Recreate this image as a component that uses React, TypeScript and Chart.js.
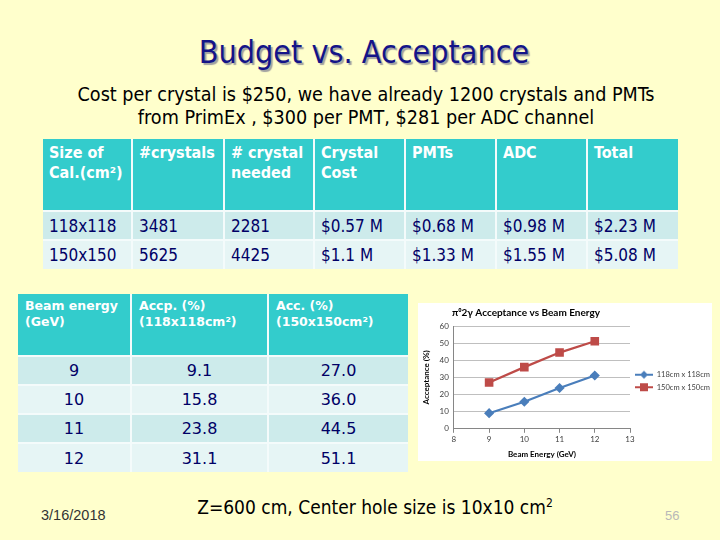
import React, { useEffect, useRef } from "react";
import { Chart, registerables } from "chart.js";

Chart.register(...registerables);

// ---------- data ----------
const beamEnergy = [9, 10, 11, 12];
const acc118 = [9.1, 15.8, 23.8, 31.1];
const acc150 = [27.0, 36.0, 44.5, 51.1];
const seriesLabels = ["118cm x 118cm", "150cm x 150cm"];
const chartTitle = "\u03c0\u20702\u03b3 Acceptance vs Beam Energy";
const xAxisTitle = "Beam Energy (GeV)";
const yAxisTitle = "Acceptance (%)";

const costHeaders = ["Size of\nCal.(cm\u00b2)", "#crystals", "# crystal\nneeded", "Crystal\nCost", "PMTs", "ADC", "Total"];
const calSizes = ["118x118", "150x150"];
const crystalsTotal = ["3481", "5625"];
const crystalsNeeded = ["2281", "4425"];
const crystalCost = ["$0.57 M", "$1.1 M"];
const pmtCost = ["$0.68 M", "$1.33 M"];
const adcCost = ["$0.98 M", "$1.55 M"];
const totalCost = ["$2.23 M", "$5.08 M"];

const accHeaders = ["Beam energy\n(GeV)", "Accp. (%)\n(118x118cm\u00b2)", "Acc. (%)\n(150x150cm\u00b2)"];

// ---------- styles ----------
const BG = "#FFFFCC";
const TEAL = "#33CCCC";
const ROW_A = "#CDEBEB";
const ROW_B = "#E6F5F5";
const NAVY = "#000066";
const BLUE = "#4A7EBB";
const RED = "#BE4B48";
const TAHOMA = '"DejaVu Sans Condensed", "DejaVu Sans", sans-serif';
const VERDANA = '"DejaVu Sans", Verdana, sans-serif';
const CHART_FONT = "Lato, 'Open Sans', sans-serif";

function legendIcon(color: string, shape: "diamond" | "square") {
  const c = document.createElement("canvas");
  c.width = 18;
  c.height = 10;
  const ctx = c.getContext("2d")!;
  ctx.strokeStyle = color;
  ctx.lineWidth = 2;
  ctx.beginPath();
  ctx.moveTo(0, 5);
  ctx.lineTo(18, 5);
  ctx.stroke();
  ctx.fillStyle = color;
  if (shape === "diamond") {
    ctx.beginPath();
    ctx.moveTo(9, 1);
    ctx.lineTo(13, 5);
    ctx.lineTo(9, 9);
    ctx.lineTo(5, 5);
    ctx.closePath();
    ctx.fill();
  } else {
    ctx.fillRect(5, 1, 8, 8);
  }
  return c;
}

function AcceptanceChart() {
  const ref = useRef<HTMLCanvasElement | null>(null);
  useEffect(() => {
    if (!ref.current) return;
    const icons = [legendIcon(BLUE, "diamond"), legendIcon(RED, "square")];
    const titleShift = {
      id: "titleShift",
      afterLayout(chart: any) {
        const tb = chart.titleBlock;
        if (tb) {
          const w = tb.right - tb.left;
          tb.left = chart.chartArea.left - 2;
          tb.right = tb.left + w;
        }
      },
    };
    const chart = new Chart(ref.current, {
      type: "line",
      data: {
        datasets: [
          {
            label: seriesLabels[0],
            data: beamEnergy.map((x, i) => ({ x, y: acc118[i] })),
            borderColor: BLUE,
            backgroundColor: BLUE,
            borderWidth: 2.25,
            pointStyle: "rectRot",
            pointRadius: 3.5,
            pointHoverRadius: 3.5,
          },
          {
            label: seriesLabels[1],
            data: beamEnergy.map((x, i) => ({ x, y: acc150[i] })),
            borderColor: RED,
            backgroundColor: RED,
            borderWidth: 2.25,
            pointStyle: "rect",
            pointRadius: 4.5,
            pointHoverRadius: 4.5,
          },
        ],
      },
      options: {
        responsive: false,
        animation: false,
        layout: { padding: { left: 4, right: 2, top: 0, bottom: 2 } },
        plugins: {
          title: {
            display: true,
            text: chartTitle,
            align: "start",
            color: "#000000",
            font: { family: CHART_FONT, size: 10, weight: "bold" },
            padding: { top: 4, bottom: 7 },
          },
          legend: {
            position: "right",
            maxWidth: 80,
            labels: {
              usePointStyle: true,
              pointStyleWidth: 18,
              boxHeight: 10,
              padding: 5,
              color: "#404040",
              font: { family: CHART_FONT, size: 7.5 },
              generateLabels: () =>
                seriesLabels.map((t, i) => ({
                  text: t,
                  pointStyle: icons[i] as any,
                  fillStyle: i === 0 ? BLUE : RED,
                  strokeStyle: "transparent",
                  lineWidth: 0,
                  hidden: false,
                  datasetIndex: i,
                  fontColor: "#404040",
                })),
            },
          },
          tooltip: { enabled: false },
        },
        scales: {
          x: {
            type: "linear",
            min: 8,
            max: 13,
            ticks: { stepSize: 1, color: "#404040", font: { family: CHART_FONT, size: 8 }, padding: 2 },
            grid: { drawOnChartArea: false, drawTicks: true, tickLength: 4, color: "#868686" },
            border: { color: "#868686" },
            title: {
              display: true,
              text: xAxisTitle,
              color: "#000000",
              font: { family: CHART_FONT, size: 8, weight: "bold" },
              padding: { top: 3, bottom: 0 },
            },
          },
          y: {
            min: 0,
            max: 60,
            ticks: { stepSize: 10, color: "#404040", font: { family: CHART_FONT, size: 8 }, padding: 5 },
            grid: { color: "#BFBFBF", drawTicks: false },
            border: { color: "#868686" },
            title: {
              display: true,
              text: yAxisTitle,
              color: "#000000",
              font: { family: CHART_FONT, size: 8, weight: "bold" },
              padding: { top: 0, bottom: 3 },
            },
          },
        },
      },
      plugins: [titleShift],
    });
    return () => chart.destroy();
  }, []);
  return (
    <canvas
      ref={ref}
      width={294}
      height={158}
      style={{ position: "absolute", left: 418, top: 303, background: "#FFFFFF" }}
    />
  );
}

const cellBorder = "2px solid #F4FBFB";

export default function App() {
  const costRows = calSizes.map((s, i) => [s, crystalsTotal[i], crystalsNeeded[i], crystalCost[i], pmtCost[i], adcCost[i], totalCost[i]]);
  const accRows = beamEnergy.map((e, i) => [String(e), acc118[i].toFixed(1), acc150[i].toFixed(1)]);
  return (
    <div style={{ position: "fixed", left: 0, top: 0, width: 720, height: 540, background: BG, overflow: "hidden" }}>
      <div
        style={{
          position: "absolute",
          left: 0,
          width: 728,
          top: 33,
          textAlign: "center",
          fontFamily: '"DejaVu Sans Condensed", "DejaVu Sans", sans-serif',
          fontSize: 32,
          color: "#141488",
          textShadow: "2px 2px 1px #A0A0A0",
        }}
      >
        Budget vs. Acceptance
      </div>
      <div
        style={{
          position: "absolute",
          left: 0,
          width: 732,
          top: 83,
          textAlign: "center",
          fontFamily: TAHOMA,
          fontSize: 19.6,
          lineHeight: "23px",
          color: "#000000",
        }}
      >
        Cost per crystal is $250, we have already 1200 crystals and PMTs
        <br />
        from PrimEx , $300 per PMT, $281 per ADC channel
      </div>

      <table
        style={{
          position: "absolute",
          left: 43,
          top: 139,
          width: 635,
          borderCollapse: "collapse",
          tableLayout: "fixed",
          fontFamily: TAHOMA,
        }}
      >
        <colgroup>
          {[89, 92, 90, 91, 91, 91, 91].map((w, i) => (
            <col key={i} style={{ width: w }} />
          ))}
        </colgroup>
        <tbody>
          <tr style={{ height: 72 }}>
            {costHeaders.map((h, i) => (
              <td
                key={i}
                style={{
                  background: TEAL,
                  color: "#FFFFFF",
                  fontWeight: "bold",
                  fontSize: 16,
                  lineHeight: "20px",
                  verticalAlign: "top",
                  padding: "4px 0 0 6px",
                  whiteSpace: "pre-line",
                  borderRight: i < 6 ? cellBorder : "none",
                  borderBottom: cellBorder,
                }}
              >
                {h}
              </td>
            ))}
          </tr>
          {costRows.map((r, ri) => (
            <tr key={ri} style={{ height: 29 }}>
              {r.map((v, ci) => (
                <td
                  key={ci}
                  style={{
                    background: ri === 0 ? ROW_A : ROW_B,
                    color: NAVY,
                    fontSize: 17,
                    padding: "0 0 0 6px",
                    whiteSpace: "nowrap",
                    borderRight: ci < 6 ? cellBorder : "none",
                    borderBottom: ri === 0 ? cellBorder : "none",
                  }}
                >
                  {v}
                </td>
              ))}
            </tr>
          ))}
        </tbody>
      </table>

      <table
        style={{
          position: "absolute",
          left: 18,
          top: 294,
          width: 390,
          borderCollapse: "collapse",
          tableLayout: "fixed",
          fontFamily: VERDANA,
        }}
      >
        <colgroup>
          {[113, 137, 140].map((w, i) => (
            <col key={i} style={{ width: w }} />
          ))}
        </colgroup>
        <tbody>
          <tr style={{ height: 62 }}>
            {accHeaders.map((h, i) => (
              <td
                key={i}
                style={{
                  background: TEAL,
                  color: "#FFFFFF",
                  fontWeight: "bold",
                  fontSize: 12.5,
                  lineHeight: "16px",
                  verticalAlign: "top",
                  padding: "4px 0 0 7px",
                  whiteSpace: "pre-line",
                  borderRight: i < 2 ? cellBorder : "none",
                  borderBottom: cellBorder,
                }}
              >
                {h}
              </td>
            ))}
          </tr>
          {accRows.map((r, ri) => (
            <tr key={ri} style={{ height: 29 }}>
              {r.map((v, ci) => (
                <td
                  key={ci}
                  style={{
                    background: ri % 2 === 0 ? ROW_A : ROW_B,
                    color: NAVY,
                    fontSize: 16,
                    textAlign: "center",
                    padding: 0,
                    borderRight: ci < 2 ? cellBorder : "none",
                    borderBottom: ri < 3 ? cellBorder : "none",
                  }}
                >
                  {v}
                </td>
              ))}
            </tr>
          ))}
        </tbody>
      </table>

      <AcceptanceChart />

      <div
        style={{
          position: "absolute",
          left: 41,
          top: 507,
          fontFamily: '"Liberation Sans", Arial, sans-serif',
          fontSize: 14.5,
          color: "#333333",
        }}
      >
        3/16/2018
      </div>
      <div
        style={{
          position: "absolute",
          left: 0,
          width: 750,
          top: 496,
          textAlign: "center",
          fontFamily: TAHOMA,
          fontSize: 19,
          color: "#000000",
        }}
      >
        Z=600 cm, Center hole size is 10x10 cm<sup style={{ fontSize: 12 }}>2</sup>
      </div>
      <div
        style={{
          position: "absolute",
          left: 665,
          top: 508,
          fontFamily: '"Liberation Sans", Arial, sans-serif',
          fontSize: 13,
          color: "#B8B8B8",
        }}
      >
        56
      </div>
    </div>
  );
}
